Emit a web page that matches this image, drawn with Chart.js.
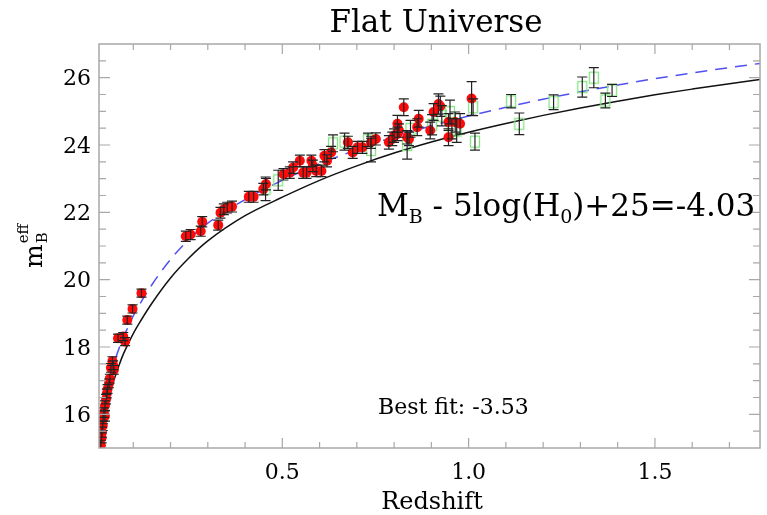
<!DOCTYPE html>
<html>
<head>
<meta charset="utf-8">
<script src="https://cdn.jsdelivr.net/npm/chart.js@4.4.1/dist/chart.umd.min.js"></script>
<style>
  html, body { margin: 0; padding: 0; background: #ffffff; }
  #wrap { width: 767px; height: 515px; }
</style>
</head>
<body>
<div id="wrap"><canvas id="hubble" width="767" height="515"></canvas></div>
<script>
// Nearby + SCP supernovae: redshift, effective B magnitude, 1-sigma error
const redZ = [0.013, 0.015, 0.016, 0.018, 0.019, 0.021, 0.024, 0.024, 0.027, 0.029, 0.031, 0.035,
  0.037, 0.040, 0.044, 0.046, 0.048, 0.059, 0.073, 0.078, 0.084, 0.098, 0.122,
  0.241, 0.254, 0.281, 0.285, 0.328, 0.334, 0.343, 0.352, 0.365, 0.410, 0.423, 0.449, 0.456,
  0.503, 0.520, 0.529, 0.547, 0.556, 0.565, 0.578, 0.582, 0.591, 0.605, 0.613, 0.620, 0.631,
  0.676, 0.689, 0.702, 0.715, 0.738, 0.751, 0.786, 0.795, 0.800, 0.809, 0.809, 0.813, 0.826,
  0.835, 0.840, 0.862, 0.866, 0.897, 0.906, 0.919, 0.924, 0.946, 0.946, 0.964, 0.977, 1.008];
const redM = [15.08, 15.30, 15.47, 15.66, 15.86, 16.05, 15.95, 16.26, 16.45, 16.62, 16.75, 16.92,
  17.06, 17.38, 17.58, 17.46, 17.32, 18.26, 18.31, 18.16, 18.80, 19.13, 19.60,
  21.29, 21.34, 21.44, 21.72, 21.62, 21.99, 22.09, 22.14, 22.17, 22.46, 22.46, 22.69, 22.84,
  23.13, 23.18, 23.33, 23.53, 23.18, 23.18, 23.53, 23.38, 23.23, 23.23, 23.68, 23.53, 23.78,
  24.08, 23.78, 23.93, 23.93, 24.08, 24.18, 24.08, 24.18, 24.28, 24.33, 24.63, 24.43, 25.12,
  24.23, 24.18, 24.53, 24.78, 24.43, 24.98, 25.22, 25.15, 24.68, 24.23, 24.68, 24.63, 25.38];
const redErr = [0.15, 0.15, 0.15, 0.14, 0.14, 0.14, 0.15, 0.14, 0.14, 0.13, 0.13, 0.13,
  0.13, 0.13, 0.13, 0.13, 0.13, 0.12, 0.12, 0.12, 0.12, 0.12, 0.12,
  0.15, 0.15, 0.15, 0.15, 0.15, 0.16, 0.16, 0.16, 0.16, 0.16, 0.16, 0.17, 0.17,
  0.17, 0.17, 0.17, 0.17, 0.17, 0.17, 0.17, 0.17, 0.17, 0.17, 0.18, 0.18, 0.18,
  0.18, 0.18, 0.18, 0.18, 0.18, 0.18, 0.20, 0.20, 0.20, 0.20, 0.25, 0.20, 0.25,
  0.20, 0.20, 0.25, 0.25, 0.25, 0.25, 0.30, 0.30, 0.25, 0.25, 0.30, 0.30, 0.50];

// HST-discovered supernovae
const greenZ = [0.455, 0.489, 0.636, 0.667, 0.730, 0.738, 0.835, 0.844, 0.902, 0.928, 0.950,
  0.955, 0.968, 1.012, 1.017, 1.114, 1.136, 1.228, 1.305, 1.336, 1.367, 1.385];
const greenM = [22.70, 22.95, 24.05, 24.10, 24.15, 23.85, 24.00, 24.48, 24.60, 24.87, 24.98,
  24.48, 24.43, 25.12, 24.10, 25.30, 24.63, 25.27, 25.72, 26.00, 25.32, 25.62];
const greenErr = [0.35, 0.30, 0.25, 0.25, 0.20, 0.35, 0.42, 0.25, 0.30, 0.30, 0.35,
  0.30, 0.35, 0.25, 0.25, 0.20, 0.32, 0.22, 0.30, 0.30, 0.22, 0.18];

// Model curves sampled in redshift
const curveZ = [0.010, 0.012, 0.015, 0.020, 0.025, 0.030, 0.040, 0.050, 0.060, 0.070, 0.080, 0.100,
  0.120, 0.150, 0.200, 0.250, 0.300, 0.400, 0.500, 0.600, 0.700, 0.800, 0.900, 1.000,
  1.100, 1.200, 1.300, 1.400, 1.500, 1.600, 1.700, 1.800];
const bestFitM = [15.35, 15.55, 15.85, 16.25, 16.55, 16.80, 17.22, 17.58, 17.90, 18.20, 18.45, 18.92,
  19.32, 19.85, 20.60, 21.20, 21.68, 22.38, 22.95, 23.44, 23.86, 24.24, 24.57, 24.86,
  25.12, 25.36, 25.58, 25.78, 25.97, 26.14, 26.30, 26.45];
const fixedM = [14.80, 15.05, 15.35, 15.75, 16.05, 16.30, 16.72, 17.08, 17.40, 17.70, 17.95, 18.40,
  18.78, 19.30, 20.05, 20.65, 21.15, 21.90, 22.45, 22.95, 23.38, 23.76, 24.09, 24.38,
  24.64, 24.88, 25.10, 25.30, 25.49, 25.66, 25.82, 25.97];

// Axis ticks
const xTickValues = [0.5, 1.0, 1.5];
const yTickValues = [16, 18, 20, 22, 24, 26];

const FONT = '"DejaVu Serif", "Liberation Serif", serif';

function pts(zs, ms, es) {
  return zs.map((z, i) => es ? { x: z, y: ms[i], e: es[i] } : { x: z, y: ms[i] });
}

// open green box used as a marker
const boxMarker = document.createElement('canvas');
boxMarker.width = 12; boxMarker.height = 14;
(function () {
  const g = boxMarker.getContext('2d');
  g.strokeStyle = '#86e486';
  g.lineWidth = 1.3;
  g.strokeRect(1.5, 1.5, 9, 11);
})();

const decor = {
  id: 'decor',
  afterDatasetsDraw(chart) {
    const { ctx, chartArea: a, scales: { x, y } } = chart;
    ctx.save();
    ctx.beginPath();
    ctx.rect(a.left, a.top, a.right - a.left, a.bottom - a.top);
    ctx.clip();
    ctx.strokeStyle = '#222222';
    ctx.lineWidth = 1.2;
    [0, 1].forEach(di => {
      chart.data.datasets[di].data.forEach(p => {
        const px = x.getPixelForValue(p.x);
        const y1 = y.getPixelForValue(p.y + p.e);
        const y2 = y.getPixelForValue(p.y - p.e);
        ctx.beginPath();
        ctx.moveTo(px, y1); ctx.lineTo(px, y2);
        ctx.moveTo(px - 5, y1); ctx.lineTo(px + 5, y1);
        ctx.moveTo(px - 5, y2); ctx.lineTo(px + 5, y2);
        ctx.stroke();
      });
    });
    ctx.restore();
  },
  afterDraw(chart) {
    const { ctx, chartArea: a, scales: { x, y } } = chart;
    ctx.save();
    // frame
    ctx.strokeStyle = '#a8a8a8';
    ctx.lineWidth = 1.5;
    ctx.strokeRect(a.left, a.top, a.right - a.left, a.bottom - a.top);
    // inward ticks on all four sides
    ctx.lineWidth = 1.2;
    ctx.beginPath();
    for (let k = 30; k <= 54; k++) {
      const v = k / 2;
      const py = y.getPixelForValue(v);
      if (py < a.top + 1 || py > a.bottom - 1) continue;
      const len = (k % 4 === 0) ? 11 : 7;
      ctx.moveTo(a.left, py); ctx.lineTo(a.left + len, py);
      ctx.moveTo(a.right, py); ctx.lineTo(a.right - len, py);
    }
    for (let k = 1; k <= 17; k++) {
      const px = x.getPixelForValue(k / 10);
      if (px > a.right - 1) continue;
      const len = (k % 5 === 0) ? 10 : 6;
      ctx.moveTo(px, a.bottom); ctx.lineTo(px, a.bottom - len);
      ctx.moveTo(px, a.top); ctx.lineTo(px, a.top + len);
    }
    ctx.stroke();

    ctx.fillStyle = '#000';
    ctx.textBaseline = 'alphabetic';
    // title
    ctx.font = '31px ' + FONT;
    ctx.textAlign = 'center';
    ctx.fillText('Flat Universe', 436, 32);
    // x axis title
    ctx.font = '24px ' + FONT;
    ctx.fillText('Redshift', 432, 509);
    // y axis title: m_B^eff, rotated
    ctx.save();
    ctx.translate(42, 268);
    ctx.rotate(-Math.PI / 2);
    ctx.textAlign = 'left';
    ctx.font = '25px ' + FONT;
    ctx.fillText('m', 0, 0);
    const mw = ctx.measureText('m').width;
    ctx.font = '15px ' + FONT;
    ctx.fillText('B', mw + 1, 5);
    ctx.fillText('eff', mw + 1, -14);
    ctx.restore();

    // annotation with subscripts
    ctx.textAlign = 'left';
    const big = '31px ' + FONT, sub = '19px ' + FONT;
    const parts = [['M', big, 0], ['B', sub, 7], [' - 5log(H', big, 0], ['0', sub, 7], [')+25=-4.03', big, 0]];
    let cx = 377;
    parts.forEach(([t, f, dy]) => {
      ctx.font = f;
      ctx.fillText(t, cx, 216 + dy);
      cx += ctx.measureText(t).width;
    });
    ctx.font = '22px ' + FONT;
    ctx.fillText('Best fit: -3.53', 378, 414);
    ctx.restore();
  }
};

new Chart(document.getElementById('hubble'), {
  type: 'scatter',
  data: {
    datasets: [
      {
        label: 'SCP + Calan/Tololo',
        data: pts(redZ, redM, redErr),
        pointStyle: 'circle',
        pointRadius: 5,
        pointHoverRadius: 5,
        backgroundColor: '#ff0a0a',
        borderColor: '#e00000',
        borderWidth: 0
      },
      {
        label: 'HST',
        data: pts(greenZ, greenM, greenErr),
        pointStyle: boxMarker,
        pointRadius: 6
      },
      {
        label: 'best fit',
        data: pts(curveZ, bestFitM),
        showLine: true,
        borderColor: '#5050f0',
        borderWidth: 1.5,
        borderDash: [12, 8],
        pointRadius: 0,
        cubicInterpolationMode: 'monotone'
      },
      {
        label: 'fixed',
        data: pts(curveZ, fixedM),
        showLine: true,
        borderColor: '#111111',
        borderWidth: 1.5,
        pointRadius: 0,
        cubicInterpolationMode: 'monotone'
      }
    ]
  },
  options: {
    responsive: false,
    animation: false,
    events: [],
    layout: { padding: { top: 44, right: 1, left: 0, bottom: 0 } },
    plugins: { legend: { display: false }, tooltip: { enabled: false }, title: { display: false } },
    scales: {
      x: {
        type: 'linear',
        min: 0.008,
        max: 1.782,
        grid: { display: false, drawTicks: false },
        border: { display: false },
        afterBuildTicks: s => { s.ticks = xTickValues.map(v => ({ value: v })); },
        afterFit: s => { s.height = 67; },
        ticks: {
          padding: 12,
          color: '#000',
          font: { family: FONT, size: 22 },
          callback: v => Number(v).toFixed(1)
        }
      },
      y: {
        type: 'linear',
        min: 15,
        max: 27,
        grid: { display: false, drawTicks: false },
        border: { display: false },
        afterBuildTicks: s => { s.ticks = yTickValues.map(v => ({ value: v })); },
        afterFit: s => { s.width = 99; },
        ticks: {
          padding: 8,
          labelOffset: 2,
          color: '#000',
          font: { family: FONT, size: 22 },
          callback: v => String(v)
        }
      }
    }
  },
  plugins: [decor]
});
</script>
</body>
</html>
